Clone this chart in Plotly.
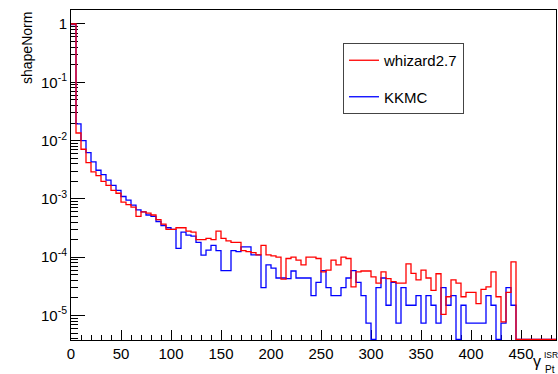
import numpy as np
import plotly.graph_objects as go

# ---- data -------------------------------------------------------------
BIN_WIDTH = 5
X_MAX = 485
bin_edges = np.arange(0, X_MAX + BIN_WIDTH, BIN_WIDTH)  # 98 edges -> 97 bins

whizard = [
    1.0, 0.0135, 0.0071, 0.0042, 0.0029, 0.0025, 0.0020, 0.0017, 0.0014, 0.00125,
    0.00088, 0.00080, 0.00072, 0.00050, 0.00060, 0.00057, 0.00053, 0.00044, 0.00037, 0.00030,
    0.00030, 0.00032, 0.00032, 0.00028, 0.00027, 0.00020, 0.00020, 0.00021, 0.00020, 0.00028,
    0.00021, 0.00019, 0.00018, 0.00018, 0.00013, 0.000125, 0.00012, 0.00011, 0.00016, 0.00011,
    0.000105, 0.00010, 4.2e-5, 9.5e-5, 0.00010, 8.9e-5, 7.4e-5, 0.00010, 0.00010, 9.5e-5,
    5.6e-5, 6.0e-5, 8.9e-5, 7.4e-5, 0.00010, 9.5e-5, 3.1e-5, 5.6e-5, 5.8e-5, 5.8e-5,
    4.6e-5, 3.6e-5, 5.6e-5, 4.3e-5, 3.8e-5, 3.6e-5, 3.6e-5, 7.7e-5, 5.3e-5, 4.1e-5,
    6.0e-5, 4.4e-5, 2.7e-5, 5.2e-5, 1.05e-5, 2.1e-5, 4.1e-5, 3.6e-5, 2.1e-5, 2.5e-5,
    2.5e-5, 1.6e-5, 2.8e-5, 3.1e-5, 5.6e-5, 2.1e-5, 7.8e-6, 2.5e-5, 8.3e-5, 0,
    0, 0, 0, 0, 0, 0, 0,
]

kkmc = [
    0.98, 0.0193, 0.0100, 0.0062, 0.0043, 0.0031, 0.0026, 0.0021, 0.0017, 0.0014,
    0.0011, 0.00095, 0.00078, 0.00065, 0.00060, 0.00053, 0.00050, 0.00041, 0.00035, 0.00032,
    0.00030, 0.000142, 0.00027, 0.00024, 0.00023, 0.00018, 0.000109, 0.000132, 0.00016, 0.00013,
    5.9e-5, 5.9e-5, 0.00013, 0.000125, 0.00015, 0.00015, 0.00011, 0.00011, 3.0e-5, 7.4e-5,
    6.5e-5, 4.4e-5, 4.4e-5, 4.3e-5, 5.8e-5, 4.4e-5, 4.4e-5, 4.4e-5, 2.2e-5, 3.7e-5,
    5.9e-5, 3.0e-5, 2.2e-5, 2.2e-5, 3.0e-5, 4.4e-5, 5.9e-5, 3.7e-5, 2.2e-5, 7.4e-6,
    0, 3.0e-5, 4.4e-5, 1.5e-5, 3.7e-5, 7.4e-6, 3.0e-5, 1.5e-5, 1.5e-5, 2.2e-5,
    7.4e-6, 2.2e-5, 1.5e-5, 7.4e-6, 3.0e-5, 1.5e-5, 2.2e-5, 0, 1.5e-5, 7.4e-6,
    7.4e-6, 7.4e-6, 7.4e-6, 2.2e-5, 1.5e-5, 0, 7.4e-6, 3.0e-5, 1.5e-5, 0,
    0, 0, 0, 0, 0, 0, 0,
]

y_tick_vals = [1e-5, 1e-4, 1e-3, 1e-2, 1e-1, 1]
y_tick_text = ["10<sup>-5</sup>", "10<sup>-4</sup>", "10<sup>-3</sup>",
               "10<sup>-2</sup>", "10<sup>-1</sup>", "1"]
x_tick_vals = [0, 50, 100, 150, 200, 250, 300, 350, 400, 450]

# ---- figure -------------------------------------------------------------
Y_LOG_MIN, Y_LOG_MAX = -5.42, 0.24
floor_val = 10 ** (Y_LOG_MIN + 0.012)  # empty bins drawn on the frame bottom


def step_y(vals):
    v = [x if x > 0 else floor_val for x in vals]
    return v + [v[-1]]


FONT = "Liberation Sans, Arial, Helvetica, sans-serif"

fig = go.Figure()
fig.add_trace(go.Scatter(
    x=bin_edges, y=step_y(kkmc), mode="lines", line_shape="hv",
    line=dict(color="#0000ff", width=1.3), name="KKMC",
    legendgroup="b", legendrank=2,
))
fig.add_trace(go.Scatter(
    x=bin_edges, y=step_y(whizard), mode="lines", line_shape="hv",
    line=dict(color="#ff0000", width=1.3), name="whizard2.7",
    legendgroup="a", legendrank=1,
))

fig.update_layout(
    width=558, height=374,
    margin=dict(l=71, r=2, t=10, b=34),
    paper_bgcolor="white", plot_bgcolor="white",
    font=dict(family=FONT, size=15, color="black"),
    showlegend=True,
    legend=dict(
        x=(343 - 71) / 485, y=(340 - 43) / 330, xanchor="left", yanchor="top",
        bgcolor="white", bordercolor="#444", borderwidth=1,
        font=dict(family=FONT, size=15, color="black"),
        traceorder="grouped", tracegroupgap=14,
    ),
    xaxis=dict(
        range=[0, X_MAX], tickmode="array", tickvals=x_tick_vals,
        ticks="inside", ticklen=10, tickcolor="black", tickwidth=1,
        minor=dict(ticks="inside", ticklen=5, dtick=10, tickcolor="black", showgrid=False),
        showline=True, linecolor="black", linewidth=1, mirror=True,
        showgrid=False, zeroline=False, tickfont=dict(size=15),
        layer="below traces",
    ),
    yaxis=dict(
        type="log", range=[Y_LOG_MIN, Y_LOG_MAX], tickmode="array",
        tickvals=y_tick_vals, ticktext=y_tick_text,
        ticks="inside", ticklen=14, tickcolor="black", tickwidth=1,
        minor=dict(ticks="inside", ticklen=7, dtick="D1", tickcolor="black", showgrid=False),
        showline=True, linecolor="black", linewidth=1, mirror=True,
        showgrid=False, zeroline=False, tickfont=dict(size=15),
        layer="below traces",
    ),
)

# axis titles (ROOT style: right/top aligned)
fig.add_annotation(text="shapeNorm", textangle=-90, xref="paper", yref="paper",
                   x=(27 - 71) / 485, y=1, xanchor="center", yanchor="top",
                   showarrow=False, font=dict(family=FONT, size=14))
fig.add_annotation(text="γ", xref="paper", yref="paper",
                   x=(543 - 71) / 485, y=(340 - 361) / 330, xanchor="right", yanchor="middle",
                   showarrow=False, font=dict(family=FONT, size=16))
fig.add_annotation(text="ISR", xref="paper", yref="paper",
                   x=(542 - 71) / 485, y=(340 - 355) / 330, xanchor="left", yanchor="middle",
                   showarrow=False, font=dict(family=FONT, size=8.5))
fig.add_annotation(text="Pt", xref="paper", yref="paper",
                   x=(543 - 71) / 485, y=(340 - 369) / 330, xanchor="left", yanchor="middle",
                   showarrow=False, font=dict(family=FONT, size=10))

fig.write_html("out.html")
